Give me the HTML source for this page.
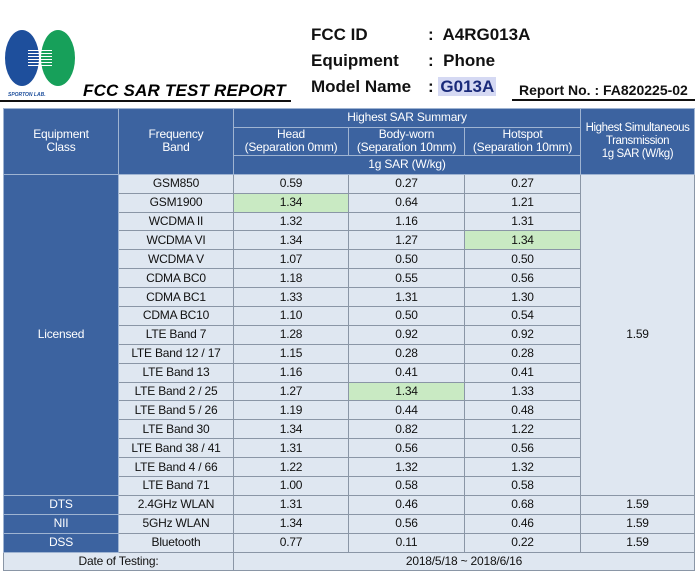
<!DOCTYPE html>
<html><head><meta charset="utf-8"><style>
body{margin:0;width:700px;height:571px;background:#fff;position:relative;overflow:hidden;font-family:"Liberation Sans",sans-serif;}
.h{position:absolute;font-weight:bold;font-size:17px;color:#111;}
table{position:absolute;left:3px;top:108px;border-collapse:collapse;table-layout:fixed;font-size:12px;letter-spacing:-0.2px;}
td{border:1px solid #8a96a6;text-align:center;padding:0;color:#111;background:#dfe7f1;height:17.9px;line-height:13px;white-space:nowrap;}
td.b{background:#3c63a0;color:#fff;border-color:#9fb4d2;}
td.g{background:#c9eac3;}
</style></head><body>
<div style="position:absolute;left:5px;top:30px;width:34px;height:56px;border-radius:50%;background:#1e4f9c"></div>
<div style="position:absolute;left:41px;top:30px;width:34px;height:56px;border-radius:50%;background:#17a05a"></div>
<div style="position:absolute;left:28px;top:50px;width:24px;height:16px;background:repeating-linear-gradient(#fff 0 1px,transparent 1px 3px)"></div>
<div style="position:absolute;left:8px;top:92px;font-size:5px;font-style:italic;font-weight:bold;color:#1e4f9c">SPORTON LAB.</div>
<div style="position:absolute;left:83px;top:81px;font-size:17px;font-weight:bold;font-style:italic;letter-spacing:0.2px">FCC SAR TEST REPORT</div>
<div style="position:absolute;left:0;top:100px;width:291px;height:2px;background:#111"></div>
<div class="h" style="left:311px;top:25px">FCC ID</div>
<div class="h" style="left:311px;top:51px">Equipment</div>
<div class="h" style="left:311px;top:77px">Model Name</div>
<div class="h" style="left:428px;top:25px">:&nbsp; A4RG013A</div>
<div class="h" style="left:428px;top:51px">:&nbsp; Phone</div>
<div class="h" style="left:428px;top:77px">: <span style="background:#d5d9f3;color:#1a2a7a;padding:0 2px">G013A</span></div>
<div class="h" style="left:519px;top:82px;font-size:14px">Report No. : FA820225-02</div>
<div style="position:absolute;left:512px;top:99px;width:183px;height:2px;background:#111"></div>
<table>
<colgroup><col style="width:115px"><col style="width:115px"><col style="width:115px"><col style="width:116px"><col style="width:116px"><col style="width:114px"></colgroup>
<tr><td class="b" rowspan="3">Equipment<br>Class</td><td class="b" rowspan="3">Frequency<br>Band</td><td class="b" colspan="3">Highest SAR Summary</td><td class="b" rowspan="3" style="font-size:11.5px;letter-spacing:-0.4px">Highest Simultaneous<br>Transmission<br>1g SAR (W/kg)</td></tr>
<tr><td class="b" style="height:27px">Head<br>(Separation 0mm)</td><td class="b">Body-worn<br>(Separation 10mm)</td><td class="b">Hotspot<br>(Separation 10mm)</td></tr>
<tr><td class="b" colspan="3">1g SAR (W/kg)</td></tr>
<tr><td class="b" rowspan="17">Licensed</td><td>GSM850</td><td>0.59</td><td>0.27</td><td>0.27</td><td rowspan="17">1.59</td></tr>
<tr><td>GSM1900</td><td class="g">1.34</td><td>0.64</td><td>1.21</td></tr>
<tr><td>WCDMA II</td><td>1.32</td><td>1.16</td><td>1.31</td></tr>
<tr><td>WCDMA VI</td><td>1.34</td><td>1.27</td><td class="g">1.34</td></tr>
<tr><td>WCDMA V</td><td>1.07</td><td>0.50</td><td>0.50</td></tr>
<tr><td>CDMA BC0</td><td>1.18</td><td>0.55</td><td>0.56</td></tr>
<tr><td>CDMA BC1</td><td>1.33</td><td>1.31</td><td>1.30</td></tr>
<tr><td>CDMA BC10</td><td>1.10</td><td>0.50</td><td>0.54</td></tr>
<tr><td>LTE Band 7</td><td>1.28</td><td>0.92</td><td>0.92</td></tr>
<tr><td>LTE Band 12 / 17</td><td>1.15</td><td>0.28</td><td>0.28</td></tr>
<tr><td>LTE Band 13</td><td>1.16</td><td>0.41</td><td>0.41</td></tr>
<tr><td>LTE Band 2 / 25</td><td>1.27</td><td class="g">1.34</td><td>1.33</td></tr>
<tr><td>LTE Band 5 / 26</td><td>1.19</td><td>0.44</td><td>0.48</td></tr>
<tr><td>LTE Band 30</td><td>1.34</td><td>0.82</td><td>1.22</td></tr>
<tr><td>LTE Band 38 / 41</td><td>1.31</td><td>0.56</td><td>0.56</td></tr>
<tr><td>LTE Band 4 / 66</td><td>1.22</td><td>1.32</td><td>1.32</td></tr>
<tr><td>LTE Band 71</td><td>1.00</td><td>0.58</td><td>0.58</td></tr>
<tr><td class="b">DTS</td><td>2.4GHz WLAN</td><td>1.31</td><td>0.46</td><td>0.68</td><td>1.59</td></tr>
<tr><td class="b">NII</td><td>5GHz WLAN</td><td>1.34</td><td>0.56</td><td>0.46</td><td>1.59</td></tr>
<tr><td class="b">DSS</td><td>Bluetooth</td><td>0.77</td><td>0.11</td><td>0.22</td><td>1.59</td></tr>
<tr><td colspan="2">Date of Testing:</td><td colspan="4">2018/5/18 ~ 2018/6/16</td></tr>
</table>
</body></html>
